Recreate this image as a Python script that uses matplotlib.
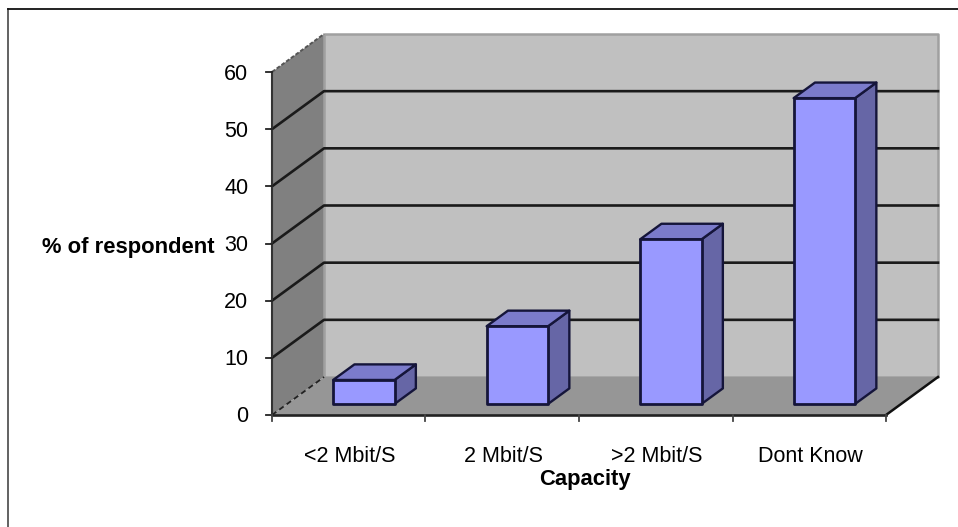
import matplotlib
matplotlib.use("Agg")
import matplotlib.pyplot as plt
from matplotlib.patches import Polygon

plt.rcParams['font.family'] = ['Liberation Sans', 'DejaVu Sans']

categories = ['<2 Mbit/S', '2 Mbit/S', '>2 Mbit/S', 'Dont Know']
values = [4.2, 13.6, 28.8, 53.5]
y_ticks = [0, 10, 20, 30, 40, 50, 60]
y_label = '% of respondent'
x_label = 'Capacity'

W, H = 958, 527
X0, X1, Y0, Y60 = 272, 886, 415, 72
ux = (X1 - X0) / len(categories)
uy = (Y0 - Y60) / 60
DX, DY = 52 / ux, 38 / uy   # full depth offset in data units
FS = 15.5

fig = plt.figure(figsize=(W / 100, H / 100), dpi=100, facecolor='white')
ax = fig.add_axes([0, 0, 1, 1])
ax.set_xlim(-X0 / ux, (W - X0) / ux)
ax.set_ylim((Y0 - H) / uy, Y0 / uy)
ax.axis('off')


def P(x, y, d=0.0):
    return (x + DX * d, y + DY * d)


def poly(pts, fc, ec='none', lw=0, z=1, **kw):
    ax.add_patch(Polygon(pts, closed=True, fc=fc, ec=ec, lw=lw, zorder=z, joinstyle='round', **kw))


n = len(categories)
top = y_ticks[-1]
# chart frame of the figure
ax.plot([(8.5 - X0) / ux] * 2, [(Y0 - H) / uy, (Y0 - 9) / uy], color='#555555', lw=1.3, zorder=0)
ax.plot([(8.5 - X0) / ux, (W - X0) / ux], [(Y0 - 9) / uy] * 2, color='#111111', lw=1.3, zorder=0)

# walls and floor
poly([P(0, 0), P(0, top), P(0, top, 1), P(0, 0, 1)], '#808080', z=1)
poly([P(0, 0, 1), P(0, top, 1), P(n, top, 1), P(n, 0, 1)], '#c0c0c0', ec='#a0a0a0', lw=1.8, z=1)
poly([P(0, 0), P(n, 0), P(n, 0, 1), P(0, 0, 1)], '#969696', ec='none', z=2)

# gridlines
for t in y_ticks[1:-1]:
    xs, ys = zip(P(0, t), P(0, t, 1), P(n, t, 1))
    ax.plot(xs, ys, color='#1a1a1a', lw=1.9, zorder=3)
xs, ys = zip(P(0, top), P(0, top, 1))
ax.plot(xs, ys, color='#555555', lw=1.4, ls=(0, (2, 1)), zorder=3)
xs, ys = zip(P(0, 0), P(0, 0, 1))
ax.plot(xs, ys, color='#222222', lw=1.3, ls=(0, (3, 2)), zorder=3)
xs, ys = zip(P(n, 0), P(n, 0, 1))
ax.plot(xs, ys, color='#111111', lw=1.8, zorder=3)

# axes lines and ticks
ax.plot([0, 0], [0, top], color='#333333', lw=1.5, zorder=4)
ax.plot([0, n], [0, 0], color='#222222', lw=1.9, zorder=4)
tx = 6 / ux
ty = 6 / uy
for t in y_ticks:
    ax.plot([-tx, 0], [t, t], color='#222222', lw=1.3, zorder=4)
    ax.text(-23.5 / ux, t - 2 / uy, str(t), ha='right', va='center', fontsize=FS, color='black')
for i in range(n + 1):
    ax.plot([i, i], [0, -ty], color='#444444', lw=1.3, zorder=4)

# bars
BW = 0.4
D0, D1 = 0.29, 0.70
for i, v in enumerate(values):
    c = i + 0.5
    l, r = c - BW / 2, c + BW / 2
    z = 5 + i
    poly([P(r, 0, D0), P(r, v, D0), P(r, v, D1), P(r, 0, D1)], '#6666a6', ec='#15153a', lw=1.7, z=z)
    poly([P(l, v, D0), P(r, v, D0), P(r, v, D1), P(l, v, D1)], '#7b7bcb', ec='#15153a', lw=1.7, z=z)
    poly([P(l, 0, D0), P(r, 0, D0), P(r, v, D0), P(l, v, D0)], '#9999ff', ec='#15153a', lw=2.0, z=z)

# labels
for i, c in enumerate(categories):
    ax.text(i + 0.5 + 1 / ux, -(457 - Y0) / uy, c, ha='center', va='center', fontsize=FS, color='black')
ax.text(n / 2 + 6 / ux, -(479 - Y0) / uy, x_label, ha='center', va='center', fontsize=15.8, fontweight='bold', color='black')
ax.text((215 - X0) / ux, (Y0 - 247) / uy, y_label, ha='right', va='center', fontsize=15.8, fontweight='bold', color='black')

fig.savefig('out.png', dpi=100, facecolor='white')
